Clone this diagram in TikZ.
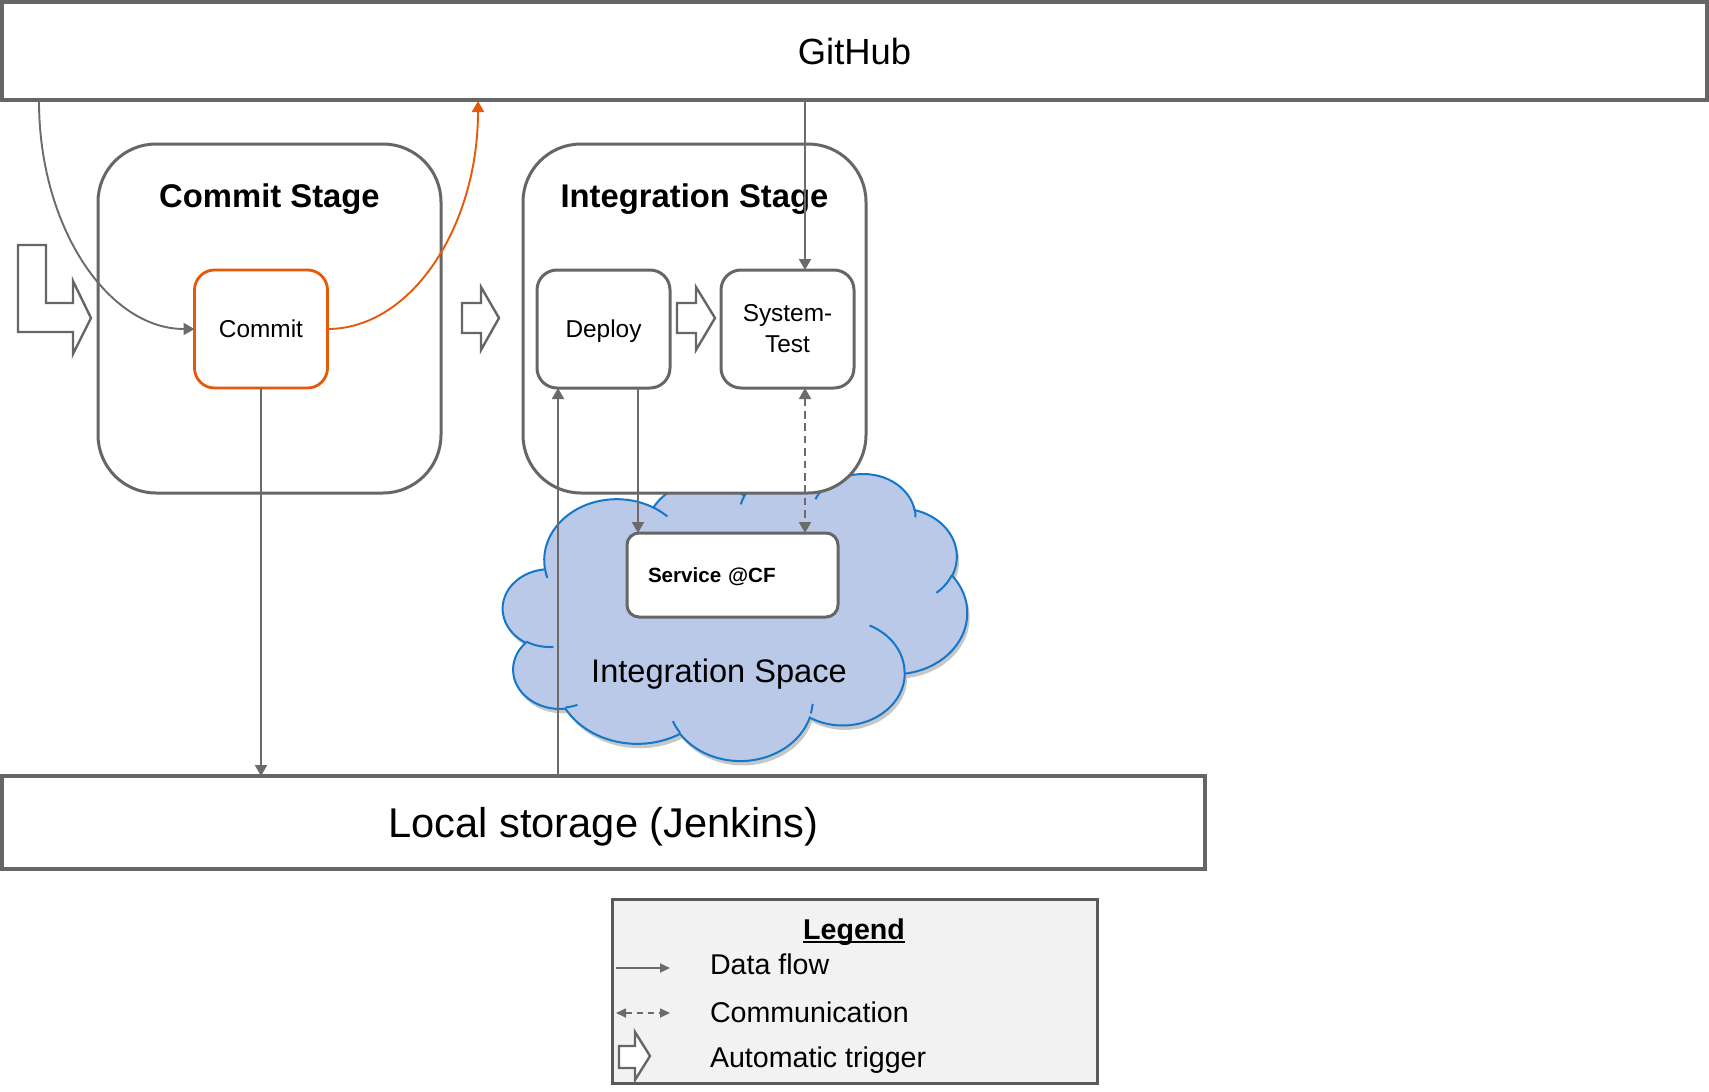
\documentclass[tikz,border=0pt]{standalone}
\usepackage{fontspec}
\setmainfont{Liberation Sans}
\usetikzlibrary{arrows.meta}
\definecolor{lgrey}{HTML}{6B6B6B}
\definecolor{bgrey}{HTML}{666666}
\definecolor{orng}{HTML}{E5590A}
\definecolor{cloudfill}{HTML}{B9C9E7}
\definecolor{cloudline}{HTML}{1477C9}
\definecolor{legfill}{HTML}{F2F2F2}
\definecolor{legline}{HTML}{5A5A5A}
\newcommand\oocalc[5]{%
  \pgfmathsetmacro\oots{atan2((#2)*sin(#4),(#3)*cos(#4))}%
  \pgfmathsetmacro\ootee{atan2((#2)*sin(#4+#5),(#3)*cos(#4+#5))}%
  \pgfmathsetmacro\oodd{\ootee-\oots}%
  \pgfmathsetmacro\oodd{\oodd-360*round((\oodd-(#5))/360)}%
  \expandafter\edef\csname oos#1\endcsname{\oots}%
  \expandafter\edef\csname ood#1\endcsname{\oodd}%
}
\begin{document}
\begin{tikzpicture}[x=0.5pt, y=-0.5pt,
  box/.style={draw=bgrey, line width=1.5pt, fill=white, inner sep=0pt, outer sep=0pt},
  stagebox/.style={box, rounded corners=29pt, minimum width=171.5pt, minimum height=174.5pt},
  taskbox/.style={box, rounded corners=10pt, minimum width=66.5pt, minimum height=59pt,
     font=\fontsize{12.2}{15.5}\selectfont, align=center},
  titletxt/.style={inner sep=0pt, outer sep=0pt, anchor=base, font=\bfseries\fontsize{16.4}{19}\selectfont},
  txt/.style={inner sep=0pt, outer sep=0pt},
  tip/.style={-{Triangle[length=5.5pt,width=6pt]}},
  flow/.style={draw=lgrey, line width=0.95pt, tip},
  comm/.style={draw=lgrey, line width=0.95pt, dash pattern=on 3.8pt off 2.4pt,
     {Triangle[length=5.5pt,width=6pt]}-{Triangle[length=5.5pt,width=6pt]}},
  legflowst/.style={draw=lgrey, line width=0.85pt, -{Triangle[length=5pt,width=4.5pt]}},
  legcommst/.style={draw=lgrey, line width=0.85pt, dash pattern=on 3pt off 2.5pt,
     {Triangle[length=5pt,width=4.5pt]}-{Triangle[length=5pt,width=4.5pt]}},
  oflow/.style={draw=orng, line width=0.95pt, tip},
  trig/.style={draw=bgrey, line width=1.2pt, fill=white, line join=miter},
  cloudshape/.style={fill=cloudfill, draw=cloudline, line width=1pt,
     preaction={fill=black, opacity=0.22, transform canvas={xshift=1.2pt, yshift=-2.2pt}}},
  cloudmark/.style={draw=cloudline, line width=1pt}
]
\fill[white] (0,0) rectangle (1709,1092);
\useasboundingbox (0,0) rectangle (1709,1092);

% GitHub
\node[box, line width=1.6pt, minimum width=852.5pt, minimum height=49pt, font=\fontsize{18.2}{21}\selectfont] (github) at (854.5,51) {GitHub};

% Cloud (Integration Space)
\oocalc{A}{675.3}{919.0}{-190.487483}{123.780533}
\oocalc{B}{533.3}{726.7}{-144.102383}{89.945233}
\oocalc{C}{436.5}{594.5}{-145.807917}{99.723017}
\oocalc{D}{485.7}{659.5}{-130.986067}{117.241733}
\oocalc{E}{533.3}{727.3}{-78.708883}{109.026917}
\oocalc{F}{677.5}{922.0}{-46.26725}{130.269}
\oocalc{G}{578.5}{786.7}{0.625017}{114.033333}
\oocalc{H}{675.2}{921.5}{22.4516}{115.17255}
\oocalc{I}{772.0}{1054.3}{66.242633}{75.711017}
\oocalc{J}{436.0}{591.8}{-274.942083}{146.735567}
\oocalc{K}{434.5}{594.5}{-246.8285}{152.51885}
\oocalc{a}{434.5}{594.5}{86.742}{26.4295}
\oocalc{b}{436.0}{591.8}{73.61047}{11.44747}
\oocalc{c}{675.2}{921.5}{137.62415}{14.0811}
\oocalc{d}{675.2}{921.5}{6.45327}{15.99835}
\oocalc{e}{578.5}{786.7}{-70.29235}{70.91737}
\oocalc{f}{533.3}{727.3}{30.31803}{27.7515}
\oocalc{g}{485.7}{659.5}{-13.74433}{14.8589}
\oocalc{h}{485.7}{659.5}{-149.18145}{18.19537}
\oocalc{i}{436.5}{594.5}{-163.49427}{17.68635}
\oocalc{j}{675.3}{919.0}{-66.70695}{12.31935}
\oocalc{k}{675.3}{919.0}{157.65435}{11.85817}
\begin{scope}[shift={(503,473)}, x=0.053704pt, y=-0.033218pt]
\path[cloudshape] (390,1437)
  arc[start angle=\oosA, delta angle=\oodA, x radius=675.3, y radius=919.0]
  arc[start angle=\oosB, delta angle=\oodB, x radius=533.3, y radius=726.7]
  arc[start angle=\oosC, delta angle=\oodC, x radius=436.5, y radius=594.5]
  arc[start angle=\oosD, delta angle=\oodD, x radius=485.7, y radius=659.5]
  arc[start angle=\oosE, delta angle=\oodE, x radius=533.3, y radius=727.3]
  arc[start angle=\oosF, delta angle=\oodF, x radius=677.5, y radius=922.0]
  arc[start angle=\oosG, delta angle=\oodG, x radius=578.5, y radius=786.7]
  arc[start angle=\oosH, delta angle=\oodH, x radius=675.2, y radius=921.5]
  arc[start angle=\oosI, delta angle=\oodI, x radius=772.0, y radius=1054.3]
  arc[start angle=\oosJ, delta angle=\oodJ, x radius=436.0, y radius=591.8]
  arc[start angle=\oosK, delta angle=\oodK, x radius=434.5, y radius=594.5]
  -- cycle;
\path[cloudmark]
  (469.3,2617.7) arc[start angle=\oosa, delta angle=\ooda, x radius=434.5, y radius=594.5]
  (692.8,3489.9) arc[start angle=\oosb, delta angle=\oodb, x radius=436.0, y radius=591.8]
  (1647.8,3909.0) arc[start angle=\oosc, delta angle=\oodc, x radius=675.2, y radius=921.5]
  (2882.7,3475.1) arc[start angle=\oosd, delta angle=\oodd, x radius=675.2, y radius=921.5]
  (3412.9,2295.4) arc[start angle=\oose, delta angle=\oode, x radius=578.5, y radius=786.7]
  (4179.8,1535.4) arc[start angle=\oosf, delta angle=\oodf, x radius=533.3, y radius=727.3]
  (3832.4,542.6) arc[start angle=\oosg, delta angle=\oodg, x radius=485.7, y radius=659.5]
  (2907.8,395.2) arc[start angle=\oosh, delta angle=\oodh, x radius=485.7, y radius=659.5]
  (2214.1,472.0) arc[start angle=\oosi, delta angle=\oodi, x radius=436.5, y radius=594.5]
  (1400.0,519.2) arc[start angle=\oosj, delta angle=\oodj, x radius=675.3, y radius=919.0]
  (412.7,1578.9) arc[start angle=\oosk, delta angle=\oodk, x radius=675.3, y radius=919.0];
\end{scope}
\node[txt, anchor=base, font=\fontsize{16.3}{19}\selectfont] (intspace) at (719,682) {Integration Space};

% Stages
\node[stagebox] (commitstage) at (269.5,318.5) {};
\node[titletxt] (committitle) at (269.5,207) {Commit Stage};
\node[stagebox] (intstage) at (694.5,318.5) {};
\node[titletxt] (inttitle) at (694.5,207) {Integration Stage};

% Tasks
\node[taskbox, draw=orng, line width=1.4pt, text height=8.7pt, text depth=0pt] (commit) at (261,329) {Commit};
\node[taskbox, text height=8.7pt, text depth=0pt] (deploy) at (603.5,329) {Deploy};
\node[taskbox] (systest) at (787.5,329) {System-\\Test};
\node[box, rounded corners=6pt, minimum width=105.5pt, minimum height=42pt, text width=84.5pt,
      align=left, text height=7.4pt, text depth=0pt, font=\bfseries\fontsize{10.3}{12}\selectfont] (service) at (732.5,575) {Service @CF};

% Local storage
\node[box, line width=1.6pt, minimum width=601.5pt, minimum height=46.5pt, text height=14.8pt, text depth=0pt,
      font=\fontsize{20.8}{24}\selectfont] (local) at (603.5,822.5) {Local storage (Jenkins)};

% Automatic triggers
\draw[trig] (18,245) -- (46,245) -- (46,303) -- (73,303) -- (73,281) -- (91,318) -- (73,354) -- (73,332) -- (18,332) -- cycle;
\draw[trig] (462,303) -- (481,303) -- (481,287) -- (499,318) -- (481,350) -- (481,333) -- (462,333) -- cycle;
\draw[trig] (677,303) -- (696,303) -- (696,287) -- (715,318) -- (696,350) -- (696,333) -- (677,333) -- cycle;

% Connectors
\coordinate (ghA) at (39,101);
\coordinate (ghB) at (478,101);
\coordinate (xS) at (805,0);
\coordinate (xD) at (558,0);
\coordinate (xE) at (638,0);
\draw[flow] (ghA) .. controls (39,227) and (108,329) .. (commit.west);
\draw[oflow] (commit.east) .. controls (411,329) and (478,227) .. (ghB);
\draw[flow] (github.south -| xS) -- (systest.north -| xS);
\draw[flow] (commit.south) -- (commit.south |- local.north);
\draw[flow] (local.north -| xD) -- (deploy.south -| xD);
\draw[flow] (deploy.south -| xE) -- (service.north -| xE);
\draw[comm] (systest.south -| xS) -- (service.north -| xS);

% Legend
\node[box, draw=legline, fill=legfill, line width=1.5pt, minimum width=242.5pt, minimum height=92pt] (legend) at (854.5,991) {};
\node[txt, anchor=base, font=\bfseries\fontsize{14.3}{17}\selectfont] (legtitle) at (854,939) {Legend};
\draw[line width=0.9pt] ([yshift=-1.6pt]legtitle.base west) -- ([yshift=-1.6pt]legtitle.base east);
\coordinate (lfa) at (616,968);
\coordinate (lfb) at (670,968);
\coordinate (lca) at (616,1013);
\coordinate (lcb) at (670,1013);
\draw[legflowst] (lfa) -- (lfb);
\draw[legcommst] (lca) -- (lcb);
\draw[trig] (619,1046) -- (635,1046) -- (635,1032) -- (650,1056) -- (635,1080) -- (635,1068) -- (619,1068) -- cycle;
\node[txt, anchor=base west, font=\fontsize{14.3}{17}\selectfont] (legflow) at (710,974) {Data flow};
\node[txt, anchor=base west, font=\fontsize{14.3}{17}\selectfont] (legcomm) at (710,1022) {Communication};
\node[txt, anchor=base west, font=\fontsize{14.3}{17}\selectfont] (legtrig) at (710,1067) {Automatic trigger};
\end{tikzpicture}
\end{document}
